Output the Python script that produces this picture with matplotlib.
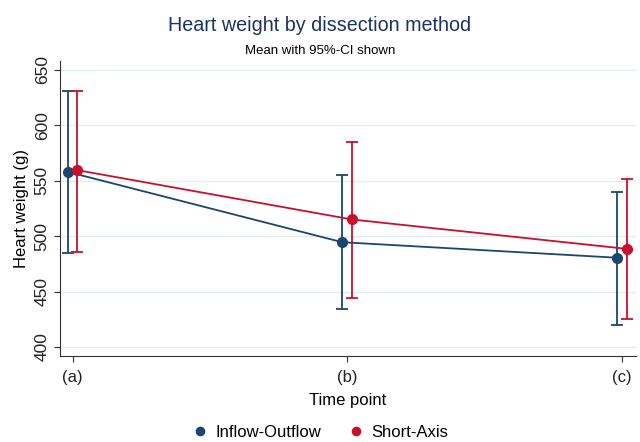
import numpy as np
import matplotlib.pyplot as plt

plt.rcParams['font.family'] = ['Liberation Sans', 'DejaVu Sans']

# data
time_labels = ['(a)', '(b)', '(c)']
inflow_mean = [558, 494.5, 480.5]
inflow_lo = [484.5, 434, 420]
inflow_hi = [631, 555.5, 540]
short_mean = [559.5, 515, 488.5]
short_lo = [486, 444, 425.5]
short_hi = [631, 584.5, 551.5]

blue = '#1a476f'
red = '#c8102e'

fig = plt.figure(figsize=(6.4, 4.42), dpi=100)
ax = fig.add_axes([0.094, 0.195, 0.899, 0.667])

x = np.arange(len(time_labels))
off = 0.018
series = [(inflow_mean, inflow_lo, inflow_hi, blue, 'Inflow-Outflow', -off),
          (short_mean, short_lo, short_hi, red, 'Short-Axis', off)]
for m, lo, hi, c, lab, dx in series:
    m = np.array(m)
    yerr = [m - np.array(lo), np.array(hi) - m]
    ax.errorbar(x + dx, m, yerr=yerr, fmt='none', ecolor=c, elinewidth=1.3,
                capsize=4, capthick=1.3, zorder=2)
    ax.plot(x + dx, m, color=c, lw=1.3, zorder=3)
    ax.plot(x + dx, m, 'o', color=c, ms=7, zorder=4, label=lab)

ax.set_xlim(-0.045, 2.05)
ax.set_ylim(392, 658)
ax.set_xticks(x)
ax.set_xticklabels(time_labels, fontsize=12)
ax.set_yticks(np.arange(400, 651, 50))
ax.set_yticklabels([str(v) for v in range(400, 651, 50)], rotation=90,
                   va='center', fontsize=12.5)
ax.grid(axis='y', color='#e4eef0', lw=1)
ax.set_axisbelow(True)
for s in ['top', 'right']:
    ax.spines[s].set_visible(False)
for s in ['left', 'bottom']:
    ax.spines[s].set_color('#333333')
ax.tick_params(colors='#333333', length=4, labelcolor='#222222')
ax.tick_params(axis='x', pad=6)
ax.set_xlabel('Time point', fontsize=12, labelpad=6)
ax.set_ylabel('Heart weight (g)', fontsize=12, labelpad=4)

fig.text(0.5, 0.942, 'Heart weight by dissection method', ha='center',
         va='center', fontsize=14.2, color='#1c3363')
fig.text(0.5, 0.885, 'Mean with 95%-CI shown', ha='center', va='center',
         fontsize=9.5)

handles, labels = ax.get_legend_handles_labels()
fig.legend(handles, labels, loc='center', bbox_to_anchor=(0.5, 0.022),
           ncol=2, frameon=False, fontsize=12, handletextpad=0.4,
           columnspacing=1.6, handlelength=1.0, markerscale=0.85)

fig.savefig('out.png', dpi=100)
